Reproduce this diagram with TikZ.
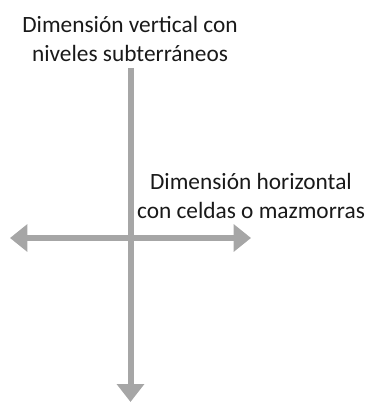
\documentclass[tikz,border=0pt]{standalone}
\usepackage{fontspec}
\setmainfont{Carlito}
\usetikzlibrary{arrows.meta}
\definecolor{axisgray}{RGB}{166,166,166}
\definecolor{txt}{RGB}{25,25,25}
\tikzset{
  axis/.style={draw=axisgray, line width=4.5pt, -{Triangle[length=13.5pt,width=20pt]}},
  biaxis/.style={draw=axisgray, line width=4.5pt, {Triangle[length=13pt,width=20pt]}-{Triangle[length=13pt,width=20pt]}},
  lbl/.style={align=center, inner sep=0pt, text=txt, font=\fontsize{17.5pt}{21.6pt}\selectfont}
}
\begin{document}
\begin{tikzpicture}[x=0.75pt,y=-0.75pt]
\useasboundingbox (0,0) rectangle (371,403);
\coordinate (vtop) at (130.5,68);
\coordinate (vbot) at (130.5,402);
\coordinate (hl) at (10,238);
\coordinate (hr) at (251,238);
\draw[axis] (vtop) -- (vbot);
\draw[biaxis] (hl) -- (hr);
\node[lbl, anchor=north] (vlabel) at (130,16) {Dimensión vertical con\\niveles subterráneos};
\node[lbl, anchor=north] (hlabel) at (251,173) {Dimensión horizontal\\con celdas o mazmorras};
\end{tikzpicture}
\end{document}
